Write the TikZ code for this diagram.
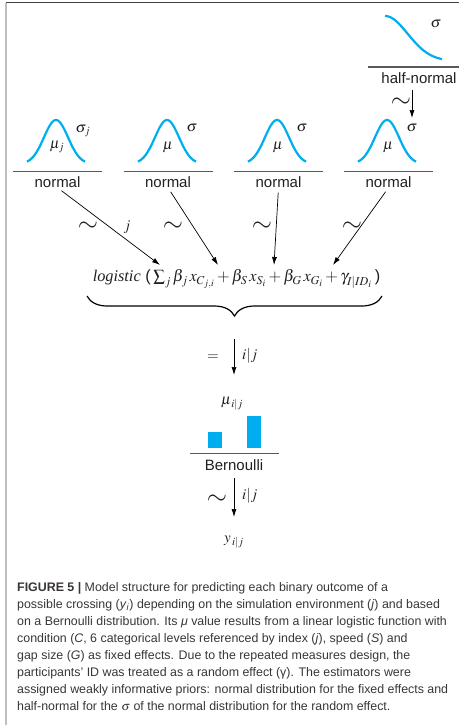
\documentclass[tikz,border=0pt]{standalone}
\usepackage{mathptmx}
\usepackage{fontspec}
\setmainfont{Liberation Sans}
\newfontfamily\tms{Liberation Serif}
\usetikzlibrary{arrows.meta,decorations.pathreplacing}
\definecolor{cy}{RGB}{0,174,239}
\definecolor{txt}{RGB}{35,31,32}
\newcommand\mytld{\smash{$\sim$}}
\begin{document}
\begin{tikzpicture}[x=1pt,y=-1pt,
  curve/.style={draw=cy,line width=2.2pt},
  sep/.style={draw=black!65,line width=1pt},
  lbl/.style={font=\fontsize{15}{15}\selectfont,text=txt,inner sep=0pt},
  mth/.style={font=\fontsize{15}{15}\selectfont,text=txt,inner sep=0pt},
  fml/.style={font=\fontsize{16.3}{16.3}\selectfont,text=txt,inner sep=0pt},
  arr/.style={-{Latex[length=8pt,width=5pt]},line width=0.7pt},
  tl/.style={font=\fontsize{26}{26}\selectfont,text=txt,inner sep=0pt,yshift=-6.5pt},
  bell/.pic={\draw[curve] plot[domain=-29:29,samples=60,smooth] (\x,{-44*exp(-(\x*\x)/289)});}
  ]
\useasboundingbox (0,0) rectangle (459,725);
% frame
\draw[black!75,line width=1pt] (6,3) -- (459,3);
\draw[black!25,line width=1.5pt] (6,3) -- (6,725);

% half-normal prior
\draw[curve] plot[domain=0:57,samples=50,smooth] ({385+\x},{61-45*exp(-(\x*\x)/1024)});
\node[mth] (hs) at (436,24) {$\sigma$};
\draw[sep] (368,67) -- (459,67);
\node[lbl] (hn) at (419,78) {half-normal};

% normal priors
\foreach \cx in {56,167,277,387}{\pic at (\cx,164) {bell};}
\foreach \i/\cx in {1/57.5,2/168,3/278.5,4/388.5}{
  \draw[sep] (\cx-44.5,171) -- (\cx+44.5,171);
  \node[lbl] (n\i) at (\cx,182) {normal};
}
\node[mth] (m1) at (57,147) {$\mu_j$};
\node[mth] (s1) at (83,131) {$\sigma_j$};
\node[mth] (m2) at (168,147) {$\mu$};
\node[mth] (s2) at (192,128) {$\sigma$};
\node[mth] (m3) at (278,147) {$\mu$};
\node[mth] (s3) at (302,128) {$\sigma$};
\node[mth] (m4) at (388,147) {$\mu$};
\node[mth] (s4) at (412,128) {$\sigma$};

% half-normal -> normal
\coordinate (h1) at (412,90);
\coordinate (h2) at (412,118);
\draw[arr] (h1) -- (h2);
\node[tl] (th) at (401,101) {\mytld};

% formula
\node[fml] (f) at (236.5,279) {{\tms\itshape logistic}\;(\,$\sum_j \beta_j\, x_{C_{j,i}} + \beta_S\, x_{S_i} + \beta_G\, x_{G_i} + \gamma_{I|ID_i}$\,)};
\coordinate (t1) at (160,265);
\coordinate (t2) at (218,265);
\coordinate (t3) at (274,265);
\coordinate (t4) at (333,265);
\draw[arr,shorten <=5pt] (n1.south) -- (t1);
\draw[arr,shorten <=5pt] (n2.south) -- (t2);
\draw[arr,shorten <=5pt] (n3.south) -- (t3);
\draw[arr,shorten <=5pt] (n4.south) -- (t4);
\node[tl] (a1) at (88,225) {\mytld};
\node[tl] (a2) at (173,225) {\mytld};
\node[tl] (a3) at (262,225) {\mytld};
\node[tl] (a4) at (352,225) {\mytld};
\node[mth] (jj) at (127,227) {$j$};

% brace
\draw[line width=1.2pt,decorate,decoration={brace,mirror,amplitude=20pt}] (87,296) -- (382,296);

% deterministic arrow
\coordinate (b0) at (234,339);
\coordinate (b1) at (234,375);
\draw[arr] (b0) -- (b1);
\node[mth] (eq) at (213,358) {$=$};
\node[mth,anchor=west] (ij1) at (242,356) {$i|j$};

% Bernoulli
\node[mth] (mu) at (232,404) {$\mu_{\,i|j}$};
\fill[cy] (208,432) rectangle (222,448);
\fill[cy] (247,416) rectangle (261,448);
\draw[sep] (190,453) -- (279,453);
\node[lbl] (be) at (234,465) {Bernoulli};

\coordinate (c0) at (234,478);
\coordinate (c1) at (234,517);
\draw[arr] (c0) -- (c1);
\node[tl] (tb) at (217,498) {\mytld};
\node[mth,anchor=west] (ij2) at (242,496) {$i|j$};
\node[mth] (y) at (234,542) {$y_{\,i|j}$};

% caption
\node[anchor=north west,align=left,inner sep=0pt,text=txt!90,
      font=\fontsize{12.4}{17.1}\selectfont] (cap) at (17,582) {%
\textbf{FIGURE 5 |} Model structure for predicting each binary outcome of a\\
possible crossing (\textit{y}\textsubscript{\textit{i}}) depending on the simulation environment (\textit{j}) and based\\
on a Bernoulli distribution. Its \textit{μ} value results from a linear logistic function with\\
condition (\textit{C}, 6 categorical levels referenced by index (\textit{j}), speed (\textit{S}) and\\
gap size (\textit{G}) as fixed effects. Due to the repeated measures design, the\\
participants’ ID was treated as a random effect (γ). The estimators were\\
assigned weakly informative priors: normal distribution for the fixed effects and\\
half-normal for the $\sigma$ of the normal distribution for the random effect.};
\end{tikzpicture}
\end{document}
